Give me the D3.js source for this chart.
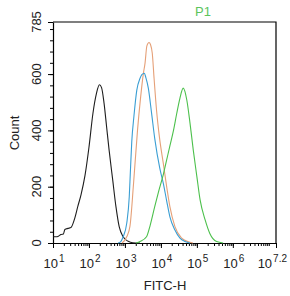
<!DOCTYPE html>
<html>
<head>
<meta charset="utf-8">
<script src="https://cdn.jsdelivr.net/npm/d3@7"></script>
<style>
  body { margin: 0; background: #fff; }
  svg { display: block; font-family: "Liberation Sans", Arial, sans-serif; }
</style>
</head>
<body>
<svg id="chart" width="290" height="296"></svg>
<script>
// histogram traces, x as log10(FITC-H), y as count
const blackLog   = [1.01, 1.08, 1.15, 1.22, 1.29, 1.33, 1.42, 1.50, 1.61, 1.69, 1.78, 1.89, 2.00, 2.11, 2.21, 2.29, 2.35, 2.42, 2.49, 2.56, 2.66, 2.75, 2.84, 2.95, 3.09, 3.22, 3.42];
const blackCount = [22, 22, 24, 30, 32, 48, 52, 55, 90, 130, 172, 240, 340, 460, 532, 562, 552, 496, 413, 330, 224, 129, 58, 22, 6, 1, 0];

const blueLog   = [2.81, 2.89, 2.95, 3.05, 3.12, 3.15, 3.19, 3.25, 3.33, 3.42, 3.47, 3.54, 3.58, 3.65, 3.74, 3.83, 3.97, 4.07, 4.16, 4.25, 4.39, 4.53, 4.67, 4.81];
const blueCount = [0, 6, 22, 70, 164, 250, 360, 450, 543, 585, 598, 603, 588, 550, 462, 370, 265, 210, 150, 93, 46, 17, 5, 0];

const orangeLog   = [2.92, 3.05, 3.14, 3.24, 3.35, 3.43, 3.51, 3.56, 3.61, 3.67, 3.71, 3.76, 3.81, 3.88, 3.96, 4.07, 4.16, 4.25, 4.39, 4.58, 4.75, 4.89];
const orangeCount = [0, 22, 60, 212, 401, 510, 600, 640, 700, 712, 705, 674, 585, 470, 375, 280, 200, 129, 58, 17, 5, 0];

const greenLog   = [3.31, 3.42, 3.60, 3.70, 3.83, 3.93, 4.07, 4.16, 4.25, 4.35, 4.44, 4.53, 4.62, 4.72, 4.81, 4.90, 5.00, 5.09, 5.23, 5.36, 5.55, 5.73];
const greenCount = [0, 5, 22, 62, 130, 180, 245, 295, 345, 400, 460, 515, 550, 508, 425, 330, 236, 153, 82, 34, 5, 0];

const yLabels = [0, 200, 400, 600, 785];
const xLabels = ["1", "2", "3", "4", "5", "6", "7.2"];

const svg = d3.select("#chart");

const x = d3.scaleLog().domain([10, Math.pow(10, 7.2)]).range([53, 276]);
const y = d3.scaleLinear().domain([0, 785]).range([243, 22]);

// frame
svg.append("path")
  .attr("d", `M${x.range()[0]},${y(785)}H${x.range()[1]}V${y(0)}`)
  .attr("fill", "none").attr("stroke", "#000").attr("stroke-width", 1.2);

// y axis
const yMinor = d3.range(0, 785, 40);
svg.append("g").attr("transform", `translate(${x.range()[0]},0)`)
  .call(d3.axisLeft(y).tickValues(yMinor).tickSize(3).tickSizeOuter(0).tickFormat(""))
  .call(g => g.select(".domain").attr("stroke-width", 1.2));
svg.append("g").attr("transform", `translate(${x.range()[0]},0)`)
  .call(d3.axisLeft(y).tickValues(yLabels).tickSize(5).tickSizeOuter(0).tickFormat(""))
  .call(g => g.select(".domain").remove());

svg.append("g").selectAll("text").data(yLabels).join("text")
  .attr("transform", d => `translate(41,${y(d)}) rotate(-90)`)
  .attr("text-anchor", "middle")
  .attr("font-size", 13).attr("fill", "#222")
  .text(d => d);

svg.append("text")
  .attr("transform", `translate(18.5,133) rotate(-90)`)
  .attr("text-anchor", "middle")
  .attr("font-size", 13).attr("fill", "#222")
  .text("Count");

// x axis
const xMinor = [];
for (let e = 1; e <= 6; e++) for (let m = 2; m <= 10; m++) xMinor.push(m * Math.pow(10, e));
const xMajor = xLabels.map(s => Math.pow(10, +s));
svg.append("g").attr("transform", `translate(0,${y(0)})`)
  .call(d3.axisBottom(x).tickValues(xMinor).tickSize(3).tickSizeOuter(0).tickFormat(""))
  .call(g => g.select(".domain").attr("stroke-width", 1.2));
svg.append("g").attr("transform", `translate(0,${y(0)})`)
  .call(d3.axisBottom(x).tickValues(xMajor).tickSize(5).tickSizeOuter(0).tickFormat(""))
  .call(g => g.select(".domain").remove());

const xl = svg.append("g").selectAll("text").data(xLabels).join("text")
  .attr("x", (d, i) => i === xLabels.length - 1 ? 287 : x(Math.pow(10, +d)) + 1)
  .attr("y", 268)
  .attr("text-anchor", (d, i) => i === xLabels.length - 1 ? "end" : "middle")
  .attr("font-size", 13).attr("fill", "#222");
xl.append("tspan").text("10");
xl.append("tspan").attr("font-size", 10).attr("dy", -6).attr("dx", 1).text(d => d);

svg.append("text")
  .attr("x", 165).attr("y", 290)
  .attr("text-anchor", "middle")
  .attr("font-size", 13).attr("fill", "#222")
  .text("FITC-H");

svg.append("text")
  .attr("x", 203).attr("y", 16)
  .attr("text-anchor", "middle")
  .attr("font-size", 13).attr("fill", "#5cc45c")
  .text("P1");

// histograms
const series = [
  { logs: blackLog, counts: blackCount, color: "#1e1e1e" },
  { logs: orangeLog, counts: orangeCount, color: "#e5a078" },
  { logs: blueLog, counts: blueCount, color: "#3a9ed3" },
  { logs: greenLog, counts: greenCount, color: "#4cc04c" }
];

const line = d3.line()
  .x(d => x(Math.pow(10, d[0])))
  .y(d => y(d[1]))
  .curve(d3.curveMonotoneX);

svg.append("g").selectAll("path").data(series).join("path")
  .attr("d", s => line(s.logs.map((l, i) => [l, s.counts[i]])))
  .attr("fill", "none")
  .attr("stroke", s => s.color)
  .attr("stroke-width", 1.1);
</script>
</body>
</html>
